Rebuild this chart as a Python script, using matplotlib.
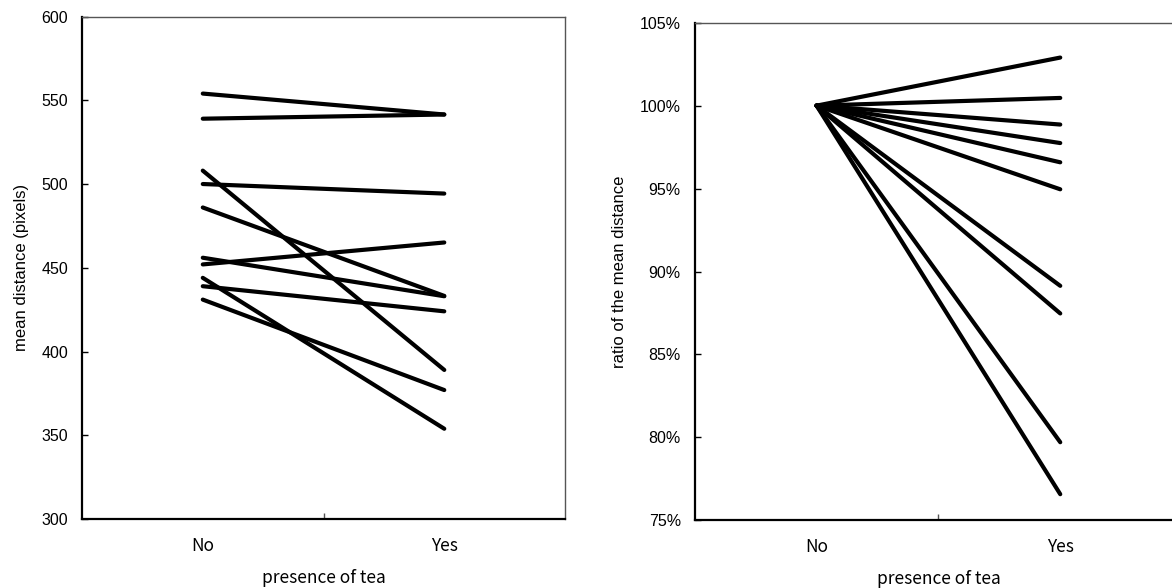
import matplotlib
matplotlib.use("Agg")
import matplotlib.pyplot as plt
import numpy as np
from matplotlib.ticker import PercentFormatter

# mean distance per subject, without and with tea
conditions = ["No", "Yes"]
dist_no = [554, 539, 508, 500, 486, 456, 452, 444, 439, 431]
dist_yes = [541.5, 541.5, 389, 494.3, 433.2, 433.0, 465.1, 353.9, 424.0, 377.0]

left_yticks = [300, 350, 400, 450, 500, 550, 600]
right_yticks = [0.75, 0.80, 0.85, 0.90, 0.95, 1.00, 1.05]

TICK_FONT = "Liberation Sans"
CAT_FONT = ["Noto Sans CJK JP", "DejaVu Sans"]

no_arr = np.array(dist_no, dtype=float)
yes_arr = np.array(dist_yes, dtype=float)
ratio_no = no_arr / no_arr
ratio_yes = yes_arr / no_arr

fig = plt.figure(figsize=(11.72, 5.88), dpi=100)
ax1 = fig.add_axes([0.0700, 0.1173, 0.4121, 0.8546])
ax2 = fig.add_axes([0.5928, 0.1151, 0.4158, 0.8463])

xpos = np.array([0.5, 1.5])


def style_axes(ax):
    ax.set_xlim(0, 2)
    ax.set_xticks([1])
    ax.set_xticklabels([])
    ax.set_xticks(xpos, minor=True)
    ax.set_xticklabels(conditions, minor=True, family=CAT_FONT, fontsize=12.5)
    ax.tick_params(axis="x", which="major", direction="in", length=4, width=1,
                   color="#555555")
    ax.tick_params(axis="x", which="minor", length=0, pad=13)
    ax.tick_params(axis="y", direction="in", length=4, width=1, pad=10,
                   labelsize=11.5)
    for lab in ax.get_yticklabels():
        lab.set_family(TICK_FONT)
    for side in ("left", "bottom"):
        ax.spines[side].set_linewidth(1.6)
        ax.spines[side].set_color("black")
    for side in ("top", "right"):
        ax.spines[side].set_linewidth(1.0)
        ax.spines[side].set_color("#555555")
    ax.set_xlabel("presence of tea", family=CAT_FONT, fontsize=12.5, labelpad=10)


# left panel: raw mean distances
for a, b in zip(no_arr, yes_arr):
    ax1.plot(xpos, [a, b], color="black", lw=3, solid_capstyle="round")
ax1.set_ylim(300, 600)
ax1.set_yticks(left_yticks)
style_axes(ax1)
ax1.set_ylabel("mean distance (pixels)", family=TICK_FONT, fontsize=12,
               labelpad=9)

# right panel: ratio to the no-tea condition
for a, b in zip(ratio_no, ratio_yes):
    ax2.plot(xpos, [a, b], color="black", lw=3, solid_capstyle="round")
ax2.set_ylim(0.75, 1.05)
ax2.set_yticks(right_yticks)
ax2.yaxis.set_major_formatter(PercentFormatter(xmax=1, decimals=0))
style_axes(ax2)
ax2.set_ylabel("ratio of the mean distance", family=TICK_FONT, fontsize=12,
               labelpad=9)

fig.savefig("out.png", dpi=100)
